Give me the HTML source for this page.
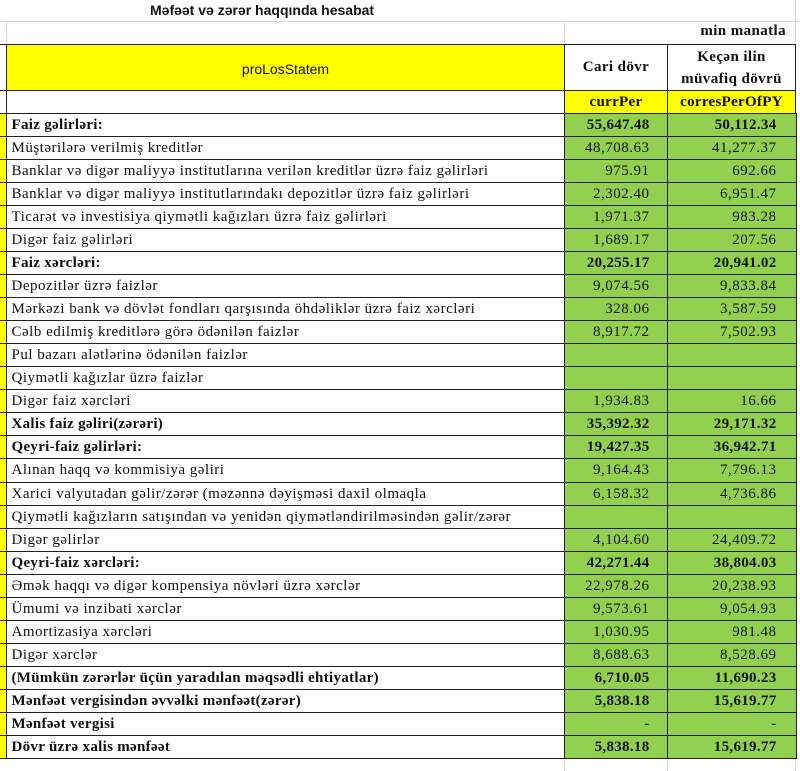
<!DOCTYPE html>
<html><head><meta charset="utf-8"><style>
body{margin:0;width:800px;height:771px;background:#fff;position:relative;overflow:hidden;font-family:"Liberation Serif",serif;font-size:15px;color:#111}
.t{position:absolute;left:150px;top:2px;font:bold 14px "Liberation Sans",sans-serif}
.gl{position:absolute;background:#d9d9d9}
table{position:absolute;left:0;top:113px;border-collapse:collapse;table-layout:fixed;width:796px}
td{border:1px solid #222;padding:0;height:22.04px;white-space:nowrap;overflow:hidden;letter-spacing:0.5px;line-height:20px}
td.l{background:#ff0;border-left:none}
td.a{padding-left:5px}
td.b{background:#92d050;text-align:right;padding-right:17px}
td.c{background:#92d050;text-align:right;padding-right:19px}
tr.bo td{font-weight:bold;letter-spacing:0.3px}
.hdr{position:absolute;border:1px solid #222;box-sizing:border-box;display:flex;align-items:center;justify-content:center;text-align:center}
</style></head><body>
<div class="t">Məfəət və zərər haqqında hesabat</div>
<div class="gl" style="left:0;top:21px;width:800px;height:1px"></div>
<div class="gl" style="left:6px;top:21px;width:1px;height:23px"></div>
<div class="gl" style="left:564px;top:21px;width:1px;height:23px"></div>
<div class="gl" style="left:795px;top:0;width:1px;height:771px"></div>
<div class="gl" style="left:564px;top:758px;width:1px;height:13px"></div>
<div class="gl" style="left:667px;top:758px;width:1px;height:13px"></div>
<div style="position:absolute;right:14px;top:23px;font-weight:bold;font-size:15px;letter-spacing:0.4px">min manatla</div>
<div class="hdr" style="left:-1px;top:44px;width:8px;height:47px"></div>
<div class="hdr" style="left:6px;top:44px;width:559px;height:47px;background:#ff0;font:14px 'Liberation Sans',sans-serif;align-items:flex-start;padding-top:16px">proLosStatem</div>
<div class="hdr" style="left:564px;top:44px;width:104px;height:47px;font-weight:bold;font-size:15px;letter-spacing:0.4px">Cari dövr</div>
<div class="hdr" style="left:667px;top:44px;width:129px;height:47px;font-weight:bold;font-size:15px;line-height:22px;letter-spacing:0.4px">Keçən ilin<br>müvafiq dövrü</div>
<div class="hdr" style="left:-1px;top:90px;width:8px;height:24px"></div>
<div class="hdr" style="left:6px;top:90px;width:559px;height:24px"></div>
<div class="hdr" style="left:564px;top:90px;width:104px;height:24px;background:#ff0;font-weight:bold;font-size:15px;letter-spacing:0.3px">currPer</div>
<div class="hdr" style="left:667px;top:90px;width:129px;height:24px;background:#ff0;font-weight:bold;font-size:15px;letter-spacing:0.3px">corresPerOfPY</div>
<table>
<colgroup><col style="width:6px"><col style="width:558px"><col style="width:103px"><col style="width:129px"></colgroup>
<tr class="bo"><td class="l"></td><td class="a">Faiz gəlirləri:</td><td class="b">55,647.48</td><td class="c">50,112.34</td></tr>
<tr><td class="l"></td><td class="a">Müştərilərə verilmiş kreditlər</td><td class="b">48,708.63</td><td class="c">41,277.37</td></tr>
<tr><td class="l"></td><td class="a">Banklar və digər maliyyə institutlarına verilən kreditlər üzrə faiz gəlirləri</td><td class="b">975.91</td><td class="c">692.66</td></tr>
<tr><td class="l"></td><td class="a">Banklar və digər maliyyə institutlarındakı depozitlər üzrə faiz gəlirləri</td><td class="b">2,302.40</td><td class="c">6,951.47</td></tr>
<tr><td class="l"></td><td class="a">Ticarət və investisiya qiymətli kağızları üzrə faiz gəlirləri</td><td class="b">1,971.37</td><td class="c">983.28</td></tr>
<tr><td class="l"></td><td class="a">Digər faiz gəlirləri</td><td class="b">1,689.17</td><td class="c">207.56</td></tr>
<tr class="bo"><td class="l"></td><td class="a">Faiz xərcləri:</td><td class="b">20,255.17</td><td class="c">20,941.02</td></tr>
<tr><td class="l"></td><td class="a">Depozitlər üzrə faizlər</td><td class="b">9,074.56</td><td class="c">9,833.84</td></tr>
<tr><td class="l"></td><td class="a">Mərkəzi bank və dövlət fondları qarşısında öhdəliklər üzrə faiz xərcləri</td><td class="b">328.06</td><td class="c">3,587.59</td></tr>
<tr><td class="l"></td><td class="a">Cəlb edilmiş kreditlərə görə ödənilən faizlər</td><td class="b">8,917.72</td><td class="c">7,502.93</td></tr>
<tr><td class="l"></td><td class="a">Pul bazarı alətlərinə ödənilən faizlər</td><td class="b"></td><td class="c"></td></tr>
<tr><td class="l"></td><td class="a">Qiymətli kağızlar üzrə faizlər</td><td class="b"></td><td class="c"></td></tr>
<tr><td class="l"></td><td class="a">Digər faiz xərcləri</td><td class="b">1,934.83</td><td class="c">16.66</td></tr>
<tr class="bo"><td class="l"></td><td class="a">Xalis faiz gəliri(zərəri)</td><td class="b">35,392.32</td><td class="c">29,171.32</td></tr>
<tr class="bo"><td class="l"></td><td class="a">Qeyri-faiz gəlirləri:</td><td class="b">19,427.35</td><td class="c">36,942.71</td></tr>
<tr><td class="l"></td><td class="a">Alınan haqq və kommisiya gəliri</td><td class="b">9,164.43</td><td class="c">7,796.13</td></tr>
<tr><td class="l"></td><td class="a">Xarici valyutadan gəlir/zərər (məzənnə dəyişməsi daxil olmaqla</td><td class="b">6,158.32</td><td class="c">4,736.86</td></tr>
<tr><td class="l"></td><td class="a">Qiymətli kağızların satışından və yenidən qiymətləndirilməsindən gəlir/zərər</td><td class="b"></td><td class="c"></td></tr>
<tr><td class="l"></td><td class="a">Digər gəlirlər</td><td class="b">4,104.60</td><td class="c">24,409.72</td></tr>
<tr class="bo"><td class="l"></td><td class="a">Qeyri-faiz xərcləri:</td><td class="b">42,271.44</td><td class="c">38,804.03</td></tr>
<tr><td class="l"></td><td class="a">Əmək haqqı və digər kompensiya növləri üzrə xərclər</td><td class="b">22,978.26</td><td class="c">20,238.93</td></tr>
<tr><td class="l"></td><td class="a">Ümumi və inzibati xərclər</td><td class="b">9,573.61</td><td class="c">9,054.93</td></tr>
<tr><td class="l"></td><td class="a">Amortizasiya xərcləri</td><td class="b">1,030.95</td><td class="c">981.48</td></tr>
<tr><td class="l"></td><td class="a">Digər xərclər</td><td class="b">8,688.63</td><td class="c">8,528.69</td></tr>
<tr class="bo"><td class="l"></td><td class="a">(Mümkün zərərlər üçün yaradılan məqsədli ehtiyatlar)</td><td class="b">6,710.05</td><td class="c">11,690.23</td></tr>
<tr class="bo"><td class="l"></td><td class="a">Mənfəət vergisindən əvvəlki mənfəət(zərər)</td><td class="b">5,838.18</td><td class="c">15,619.77</td></tr>
<tr class="bo"><td class="l"></td><td class="a">Mənfəət vergisi</td><td class="b">-</td><td class="c">-</td></tr>
<tr class="bo"><td class="l"></td><td class="a">Dövr üzrə xalis mənfəət</td><td class="b">5,838.18</td><td class="c">15,619.77</td></tr>
</table>
</body></html>
